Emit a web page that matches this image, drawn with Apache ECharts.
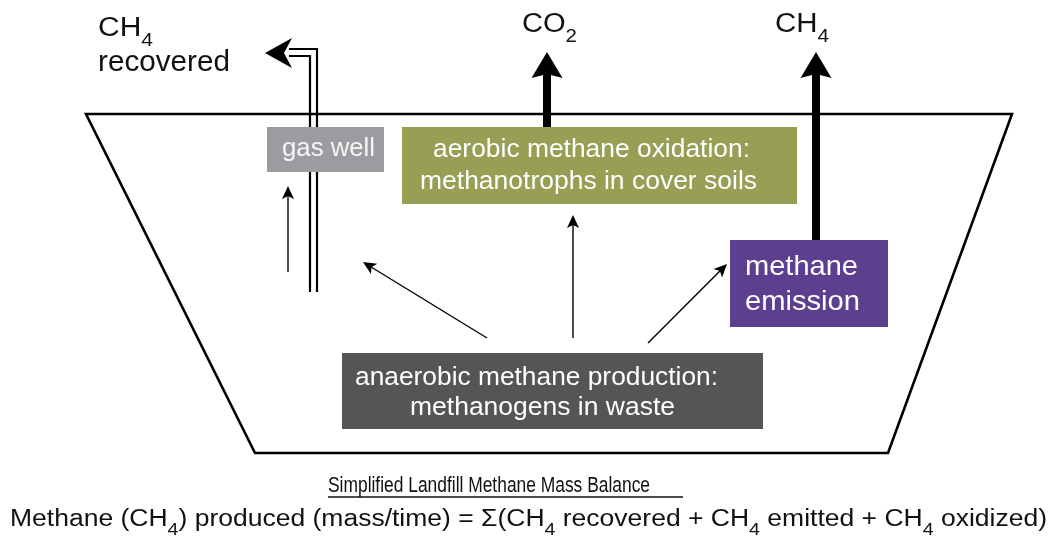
<!DOCTYPE html>
<html>
<head>
<meta charset="utf-8">
<script src="https://cdn.jsdelivr.net/npm/echarts@6/dist/echarts.min.js"></script>
<style>
html, body { margin: 0; padding: 0; background: #fff; }
#main { width: 1049px; height: 542px; }
</style>
</head>
<body>
<div id="main"></div>
<script>
// Landfill methane mass balance sketch, drawn on a hidden 0..1049 x 0..542 value grid

// landfill cell outline and the underline of the caption
var landfillOutline = [[86, 114], [1012, 114], [888, 453], [255, 453]];
var captionRule = [[328, 497], [683, 497]];

// process boxes
var boxNames = ['gas well', 'aerobic oxidation', 'methane emission', 'anaerobic production'];
var boxExtents = [[267, 127, 384, 172], [402, 127, 797, 204], [730, 240, 888, 327], [342, 353, 763, 429]];
var boxColors = ['#9b9ba0', '#979f55', '#5c3f8e', '#545557'];

// gas well pipe (two walls) and its outlet
var pipeWalls = [
	[[317, 292], [317, 49], [289, 49]],
	[[310, 292], [310, 56], [289, 56]]
];
var pipeOutlet = [[300, 53], [265, 53]];

// flows: [from, to]
var thickFlows = [[[547, 127], [547, 52]], [[816, 240], [816, 52]]];
var thinFlows = [
	[[288, 272], [288, 186]],
	[[487, 338], [363, 262]],
	[[573, 338], [573, 215]],
	[[648, 343], [727, 264]]
];

// texts, "_n" marks a subscript
var labelTexts = [
	'CH_4', 'recovered', 'CO_2', 'CH_4',
	'gas well',
	'aerobic methane oxidation:', 'methanotrophs in cover soils',
	'methane', 'emission',
	'anaerobic methane production:', 'methanogens in waste',
	'Simplified Landfill Methane Mass Balance',
	'Methane (CH_4) produced (mass/time) = \u03a3(CH_4 recovered + CH_4 emitted + CH_4 oxidized)'
];
// [left, middle y, width, font size, align, colour]
var labelSpots = [
	[98, 29, 55, 27, 'left', '#111'],
	[98, 63, 132, 29, 'left', '#111'],
	[522, 25, 55, 27, 'left', '#111'],
	[775, 25, 54, 27, 'left', '#111'],
	[282, 149, 93, 25, 'center', '#f6f6f6'],
	[433, 150, 317, 25, 'center', '#fff'],
	[420, 182, 337, 25, 'center', '#fff'],
	[745, 267, 113, 28, 'left', '#fff'],
	[745, 302, 115, 28, 'left', '#fff'],
	[355, 378, 363, 25, 'center', '#fff'],
	[410, 408, 265, 25, 'center', '#fff'],
	[328, 486, 322, 22, 'center', '#111'],
	[10, 520, 1037, 23, 'center', '#111']
];

var FONT = "'Liberation Sans', Arial, Helvetica, sans-serif";
var measureCtx = document.createElement('canvas').getContext('2d');

function splitSubs(str) {
	var out = [];
	str.split(/(_\d)/).forEach(function(p) {
		if (!p) return;
		if (p.charAt(0) === '_') out.push([p.slice(1), true]);
		else out.push([p, false]);
	});
	return out;
}

function subSize(size) {
	return Math.round(size * 0.72);
}

function naturalWidth(parts, size) {
	var w = 0;
	parts.forEach(function(p) {
		measureCtx.font = (p[1] ? subSize(size) : size) + 'px ' + FONT;
		w += measureCtx.measureText(p[0]).width;
	});
	return w;
}

function headPoints(tip, from, len, half, notch) {
	var dx = tip[0] - from[0], dy = tip[1] - from[1];
	var d = Math.sqrt(dx * dx + dy * dy);
	var ux = dx / d, uy = dy / d, nx = -uy, ny = ux;
	var bx = tip[0] - ux * len, by = tip[1] - uy * len;
	return [
		tip,
		[bx + nx * half, by + ny * half],
		[tip[0] - ux * (len - notch), tip[1] - uy * (len - notch)],
		[bx - nx * half, by - ny * half]
	];
}

function arrowItem(api, seg, width, len, half, notch) {
	var a = api.coord(seg[0]), b = api.coord(seg[1]);
	var head = headPoints(b, a, len, half, notch);
	return {
		type: 'group',
		children: [{
			type: 'line',
			shape: { x1: a[0], y1: a[1], x2: head[2][0], y2: head[2][1] },
			style: { stroke: '#000', lineWidth: width }
		}, {
			type: 'polygon',
			shape: { points: head },
			style: { fill: '#000' }
		}]
	};
}

function indexData(arr) {
	return arr.map(function(d, i) { return i; });
}

function custom(name, data, renderItem) {
	return {
		name: name,
		type: 'custom',
		coordinateSystem: 'cartesian2d',
		clip: false,
		silent: true,
		data: data,
		renderItem: renderItem
	};
}

var chart = echarts.init(document.getElementById('main'));

var option = {
	animation: false,
	backgroundColor: '#fff',
	grid: { left: 0, right: 0, top: 0, bottom: 0 },
	xAxis: { type: 'value', min: 0, max: 1049, show: false },
	yAxis: { type: 'value', min: 0, max: 542, inverse: true, show: false },
	series: [
		custom('outline', [0, 1], function(params, api) {
			if (params.dataIndex === 0) {
				return {
					type: 'polygon',
					shape: { points: landfillOutline.map(function(p) { return api.coord(p); }) },
					style: { fill: 'none', stroke: '#000', lineWidth: 2.6, lineJoin: 'miter' }
				};
			}
			var a = api.coord(captionRule[0]), b = api.coord(captionRule[1]);
			return {
				type: 'line',
				shape: { x1: a[0], y1: a[1], x2: b[0], y2: b[1] },
				style: { stroke: '#111', lineWidth: 1.4 }
			};
		}),
		custom('pipe', indexData(pipeWalls).concat([pipeWalls.length]), function(params, api) {
			var i = params.dataIndex;
			if (i < pipeWalls.length) {
				return {
					type: 'polyline',
					shape: { points: pipeWalls[i].map(function(p) { return api.coord(p); }) },
					style: { fill: 'none', stroke: '#000', lineWidth: 2.2, lineJoin: 'miter' }
				};
			}
			var head = headPoints(api.coord(pipeOutlet[1]), api.coord(pipeOutlet[0]), 27, 15, 8);
			return { type: 'polygon', shape: { points: head }, style: { fill: '#000' } };
		}),
		custom('boxes', indexData(boxNames), function(params, api) {
			var e = boxExtents[params.dataIndex];
			var a = api.coord([e[0], e[1]]), b = api.coord([e[2], e[3]]);
			return {
				type: 'rect',
				shape: { x: a[0], y: a[1], width: b[0] - a[0], height: b[1] - a[1] },
				style: { fill: boxColors[params.dataIndex] }
			};
		}),
		custom('thick flows', indexData(thickFlows), function(params, api) {
			return arrowItem(api, thickFlows[params.dataIndex], 8, 26, 15.5, 4);
		}),
		custom('thin flows', indexData(thinFlows), function(params, api) {
			return arrowItem(api, thinFlows[params.dataIndex], 1.4, 13, 6, 3);
		}),
		custom('labels', indexData(labelTexts), function(params, api) {
			var i = params.dataIndex, spot = labelSpots[i];
			var parts = splitSubs(labelTexts[i]);
			var size = spot[3];
			var left = api.coord([spot[0], spot[1]]);
			var right = api.coord([spot[0] + spot[2], spot[1]]);
			var sx = (right[0] - left[0]) / naturalWidth(parts, size);
			var x = spot[4] === 'center' ? (left[0] + right[0]) / 2 : left[0];
			var text = parts.map(function(p) { return p[1] ? '{s|' + p[0] + '}' : p[0]; }).join('');
			var shift = Math.round(size * 0.45);
			return {
				type: 'text',
				x: x,
				y: left[1],
				scaleX: sx,
				style: {
					text: text,
					fill: spot[5],
					fontSize: size,
					fontFamily: FONT,
					align: spot[4],
					verticalAlign: 'middle',
					rich: {
						s: { fontSize: subSize(size), fontFamily: FONT, fill: spot[5], padding: [shift * 2, 0, 0, 0] }
					}
				}
			};
		})
	]
};

chart.setOption(option);
</script>
</body>
</html>
